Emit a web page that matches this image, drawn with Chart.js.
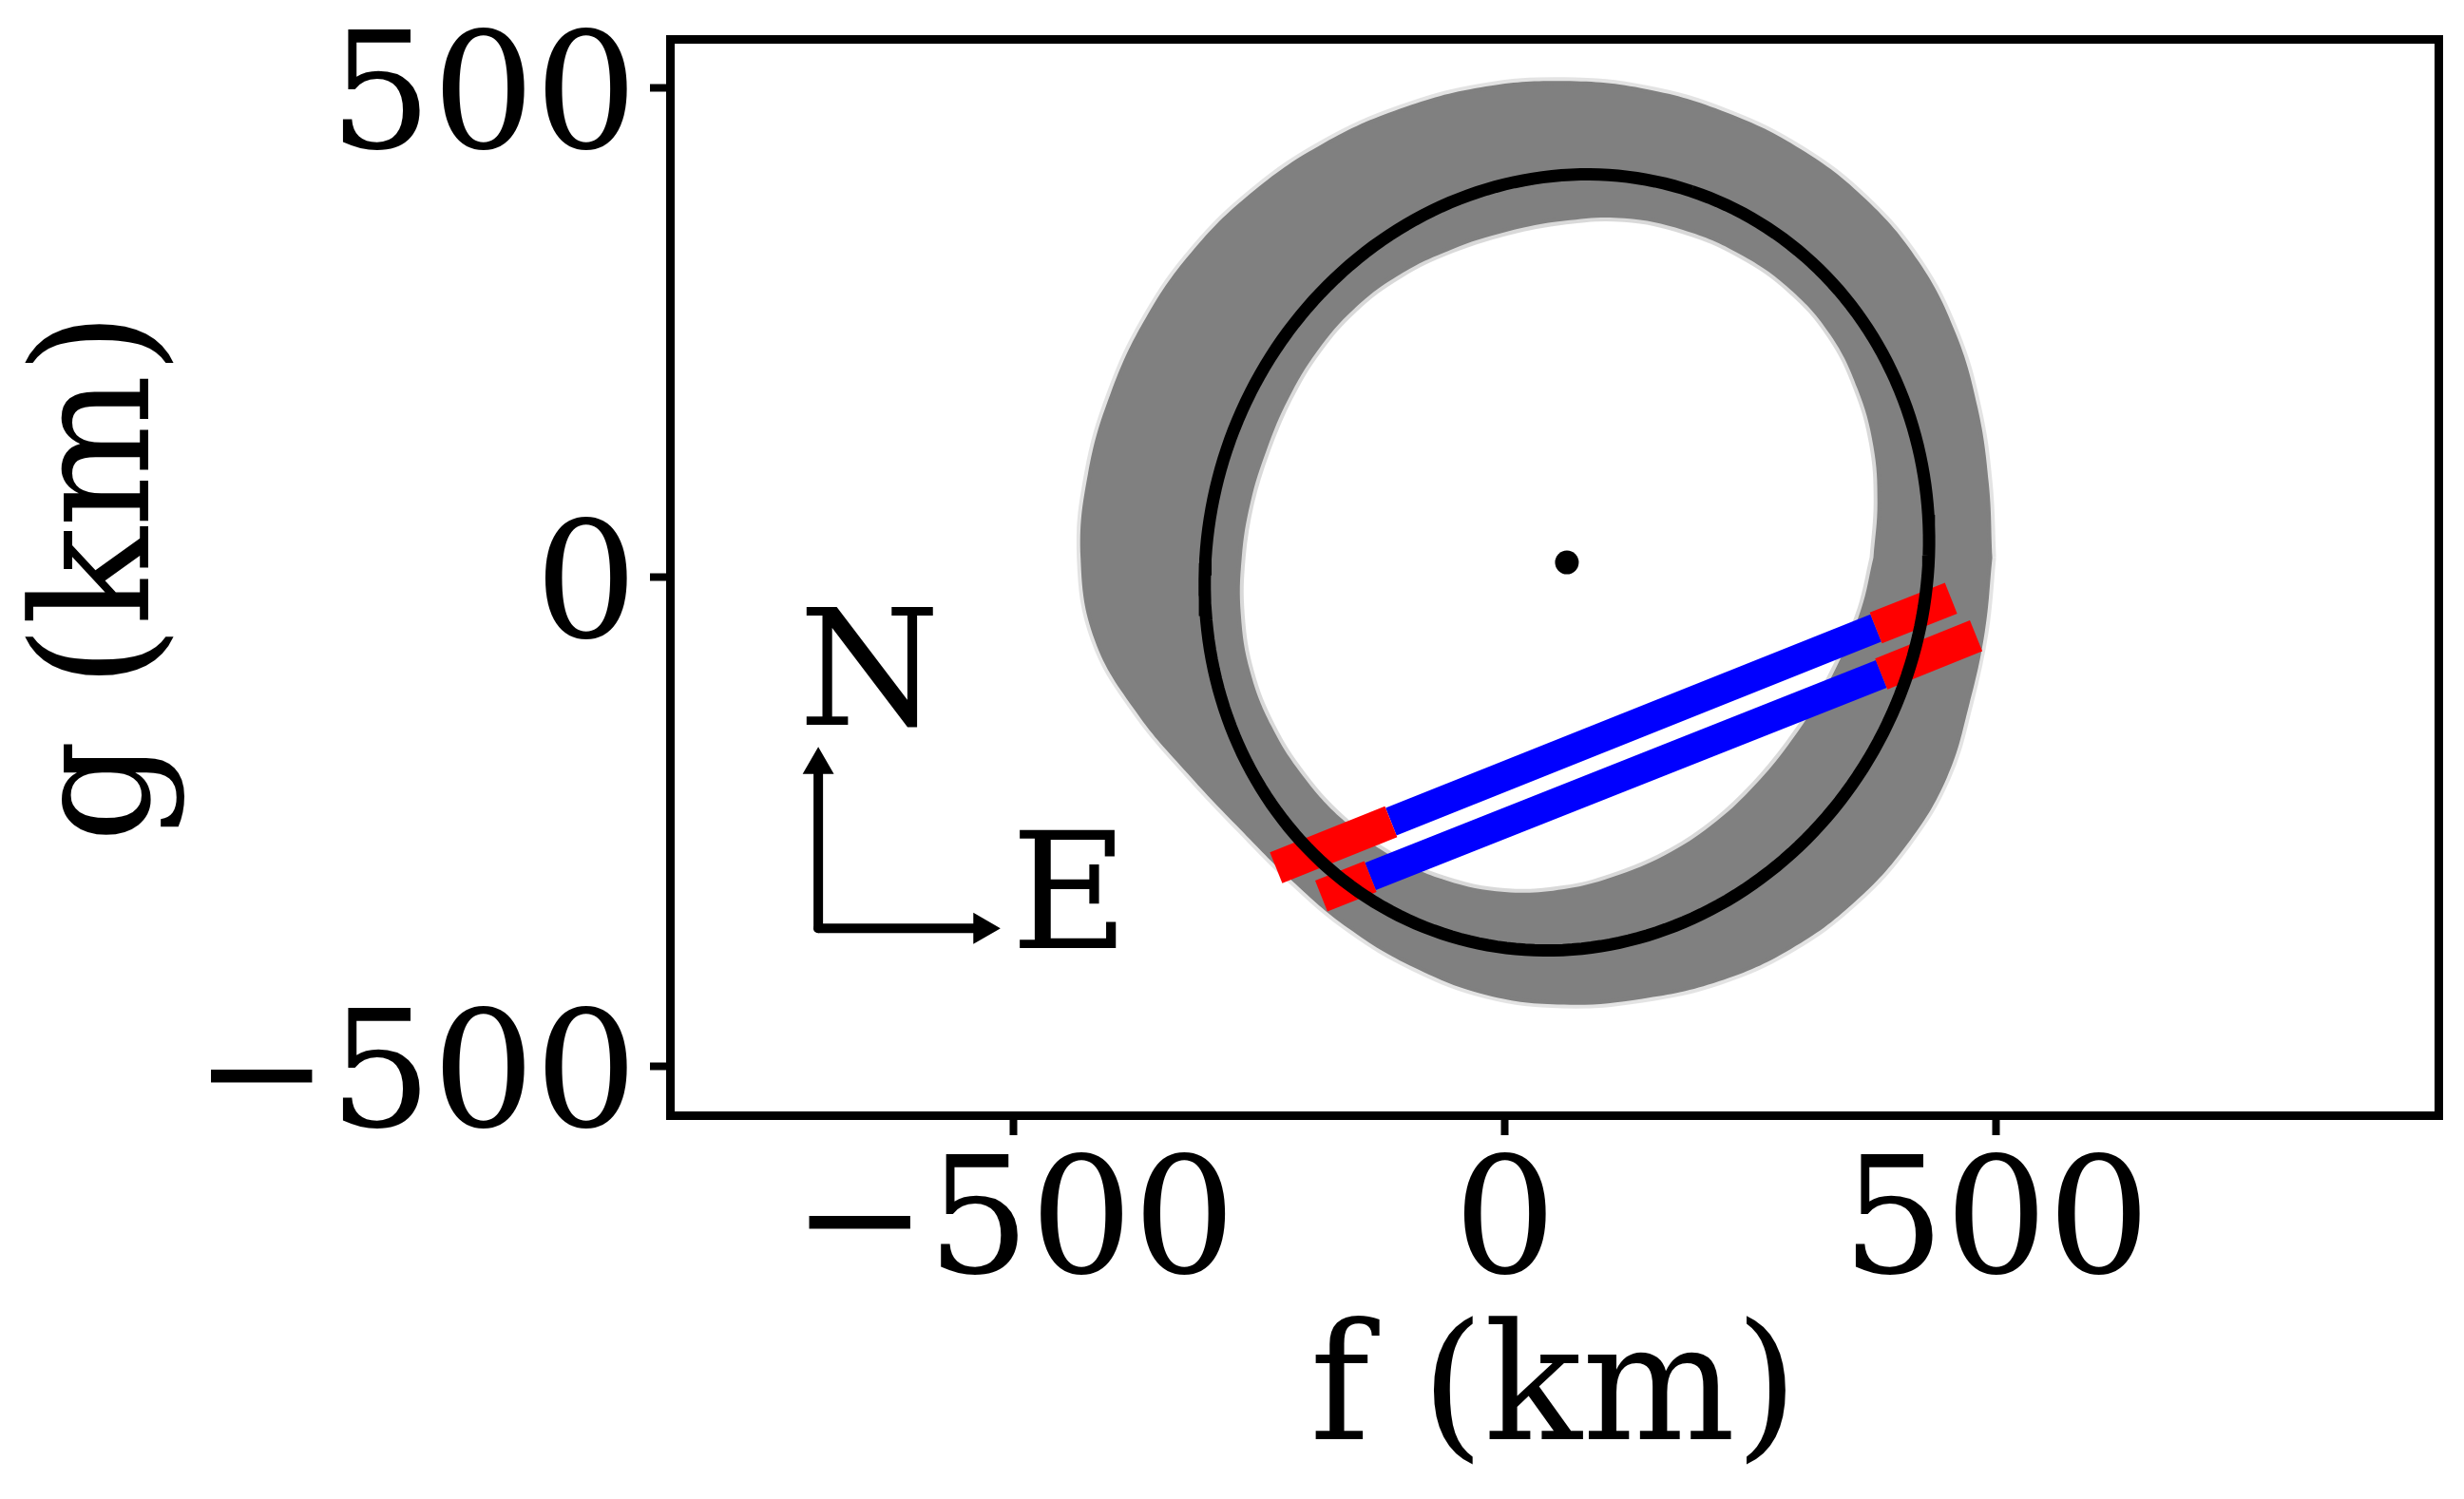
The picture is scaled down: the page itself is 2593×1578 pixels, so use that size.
<!DOCTYPE html>
<html>
<head>
<meta charset="utf-8">
<script src="https://cdn.jsdelivr.net/npm/chart.js@4/dist/chart.umd.min.js"></script>
<style>
  html, body { margin: 0; padding: 0; background: #fff; }
  canvas { display: block; }
</style>
</head>
<body>
<canvas id="occ" width="2593" height="1578"></canvas>
<script>
// axis limits and ticks (km)
const fLimits = [-850, 950];
const gLimits = [-550, 550];
const fTicks = [-500, 0, 500];
const gTicks = [-500, 0, 500];

// fitted limb: centre, semi-axes, tilt of major axis from N towards E (deg)
const fitCentre = [63, 15];
const fitAxes = [400, 365];
const fitTilt = 18.5;

// envelope of the sampled limbs: radius (km) from envCentre at each angle (deg)
const envCentre = [60, 20];
const envAngles = [0, 10, 20, 30, 40, 50, 60, 70, 80, 90, 100, 110, 120, 130, 140, 150, 160, 170,
                   180, 190, 200, 210, 220, 230, 240, 250, 260, 270, 280, 290, 300, 310, 320, 330, 340, 350];
const outerRadius = [436, 439, 448, 460, 471, 478, 482, 484, 486, 487, 488, 488, 489, 490, 491, 491, 491, 492,
                     492, 485, 463, 442, 431, 431, 438, 446, 454, 457, 458, 461, 462, 460, 456, 450, 439, 435];
const innerRadius = [315, 324, 335, 345, 354, 358, 358, 356, 352, 344, 338, 335, 334, 332, 328, 324, 322, 324,
                     328, 334, 340, 344, 347, 350, 352, 351, 347, 339, 329, 320, 311, 303, 298, 297, 300, 307];

// chords: start of ingress error, ingress, egress, end of egress error
const chordF = [[-233, -116, 377.5, 454], [-187, -137, 383, 479.5]];
const chordG = [[-297, -250, -52, -21.5], [-326, -306, -99, -60]];

// compass
const compassOrigin = [-699, -359];
const compassTipF = [-699, -532];
const compassTipG = [-192, -359];
const compassText = ['N', 'E'];
const compassTextF = [-647, -443];
const compassTextG = [-151, -379];

const RED = '#ff0000';
const BLUE = '#0000ff';
const GREY = '#808080';

function limbPoints(c, ax, tiltDeg, n) {
  const p = tiltDeg * Math.PI / 180;
  const pts = [];
  for (let i = 0; i <= n; i++) {
    const t = 2 * Math.PI * i / n;
    const u = ax[0] * Math.cos(t), v = ax[1] * Math.sin(t);
    pts.push({ x: c[0] + u * Math.sin(p) + v * Math.cos(p),
               y: c[1] + u * Math.cos(p) - v * Math.sin(p) });
  }
  return pts;
}

function envelope(radius) {
  const pts = envAngles.map((a, i) => ({
    x: envCentre[0] + radius[i] * Math.cos(a * Math.PI / 180),
    y: envCentre[1] + radius[i] * Math.sin(a * Math.PI / 180)
  }));
  pts.push(pts[0]);
  return pts;
}

function lineSet(points, color, width, order, extra) {
  return Object.assign({
    data: points, showLine: true, fill: false, borderColor: color, borderWidth: width,
    pointRadius: 0, order: order, xAxisID: 'x', yAxisID: 'y'
  }, extra || {});
}

const datasets = [];

// fitted centre
datasets.push({
  data: [{ x: fitCentre[0], y: fitCentre[1] }],
  pointRadius: 12.5, pointBackgroundColor: '#000', pointBorderWidth: 0,
  order: 0, xAxisID: 'x', yAxisID: 'y'
});

// compass arrows
compassTipF.forEach((f, i) => {
  datasets.push(lineSet([{ x: compassOrigin[0], y: compassOrigin[1] }, { x: f, y: compassTipG[i] }],
    '#000', 10, 1, { borderCapStyle: 'round' }));
});
datasets.push({
  data: compassTipF.map((f, i) => ({ x: f, y: compassTipG[i] })),
  pointStyle: 'triangle', pointRotation: [0, 90], pointRadius: 17,
  pointBackgroundColor: '#000', pointBorderColor: '#000', pointBorderWidth: 2,
  order: 0, xAxisID: 'x', yAxisID: 'y'
});

// fitted limb
datasets.push(lineSet(limbPoints(fitCentre, fitAxes, fitTilt, 240), '#000', 13, 2));

// chords
chordF.forEach((fs, c) => {
  const gs = chordG[c];
  const p = fs.map((f, i) => ({ x: f, y: gs[i] }));
  datasets.push(lineSet([p[0], p[1]], RED, 35, 3));
  datasets.push(lineSet([p[2], p[3]], RED, 35, 3));
  datasets.push(lineSet([p[1], p[2]], BLUE, 31, 4));
});

// envelope band: grey outer shape, white inner shape on top
datasets.push(lineSet(envelope(innerRadius), 'rgba(128,128,128,0.3)', 8, 5,
  { fill: 'shape', backgroundColor: '#ffffff', tension: 0.4 }));
datasets.push(lineSet(envelope(outerRadius), 'rgba(128,128,128,0.22)', 8, 6,
  { fill: 'shape', backgroundColor: GREY, tension: 0.4 }));

const compassLabels = {
  id: 'compassLabels',
  afterDatasetsDraw(chart) {
    const { ctx, scales: { x, y } } = chart;
    ctx.save();
    ctx.font = '170px "DejaVu Serif"';
    ctx.fillStyle = '#000';
    ctx.textAlign = 'center';
    ctx.textBaseline = 'alphabetic';
    compassText.forEach((t, i) => {
      ctx.fillText(t, x.getPixelForValue(compassTextF[i]), y.getPixelForValue(compassTextG[i]));
    });
    ctx.restore();
  }
};

const fmt = v => (v < 0 ? '\u2212' + Math.abs(v) : String(v));

Chart.defaults.font.family = "'DejaVu Serif', serif";
Chart.defaults.color = '#000';

const frame = { display: true, color: '#000', width: 9 };

new Chart(document.getElementById('occ'), {
  type: 'scatter',
  data: { datasets: datasets },
  plugins: [compassLabels],
  options: {
    responsive: false,
    animation: false,
    events: [],
    devicePixelRatio: 1,
    layout: { autoPadding: false, padding: { left: 0, top: 41, right: 27, bottom: 0 } },
    plugins: { legend: { display: false }, tooltip: { enabled: false } },
    scales: {
      x: {
        type: 'linear', position: 'bottom', min: fLimits[0], max: fLimits[1],
        afterBuildTicks: s => { s.ticks = fTicks.map(v => ({ value: v })); },
        afterFit: s => { s.height = 404; s.paddingLeft = 0; s.paddingRight = 0; },
        ticks: { callback: fmt, font: { size: 170, lineHeight: 1 }, padding: 16, maxRotation: 0, autoSkip: false },
        grid: { display: true, drawOnChartArea: false, tickLength: 21, tickWidth: 8, tickColor: '#000', lineWidth: 9 },
        border: frame,
        title: { display: true, text: 'f (km)', font: { size: 170, lineHeight: 1 }, padding: { top: 0, bottom: 22 } }
      },
      y: {
        type: 'linear', position: 'left', min: gLimits[0], max: gLimits[1],
        afterBuildTicks: s => { s.ticks = gTicks.map(v => ({ value: v })); },
        afterFit: s => { s.width = 705; s.paddingTop = 0; s.paddingBottom = 0; },
        ticks: { callback: fmt, font: { size: 170, lineHeight: 1 }, padding: 13, labelOffset: 19, autoSkip: false },
        grid: { display: true, drawOnChartArea: false, tickLength: 21, tickWidth: 8, tickColor: '#000', lineWidth: 9 },
        border: frame,
        title: { display: true, text: 'g (km)', font: { size: 170, lineHeight: 1 }, padding: { top: 27, bottom: 0 } }
      },
      x2: {
        type: 'linear', position: 'top', min: fLimits[0], max: fLimits[1],
        afterFit: s => { s.height = 0; s.paddingLeft = 0; s.paddingRight = 0; },
        ticks: { display: false }, grid: { display: false, lineWidth: 9 }, border: frame
      },
      y2: {
        type: 'linear', position: 'right', min: gLimits[0], max: gLimits[1],
        afterFit: s => { s.width = 0; s.paddingTop = 0; s.paddingBottom = 0; },
        ticks: { display: false }, grid: { display: false, lineWidth: 9 }, border: frame
      }
    }
  }
});
</script>
</body>
</html>
